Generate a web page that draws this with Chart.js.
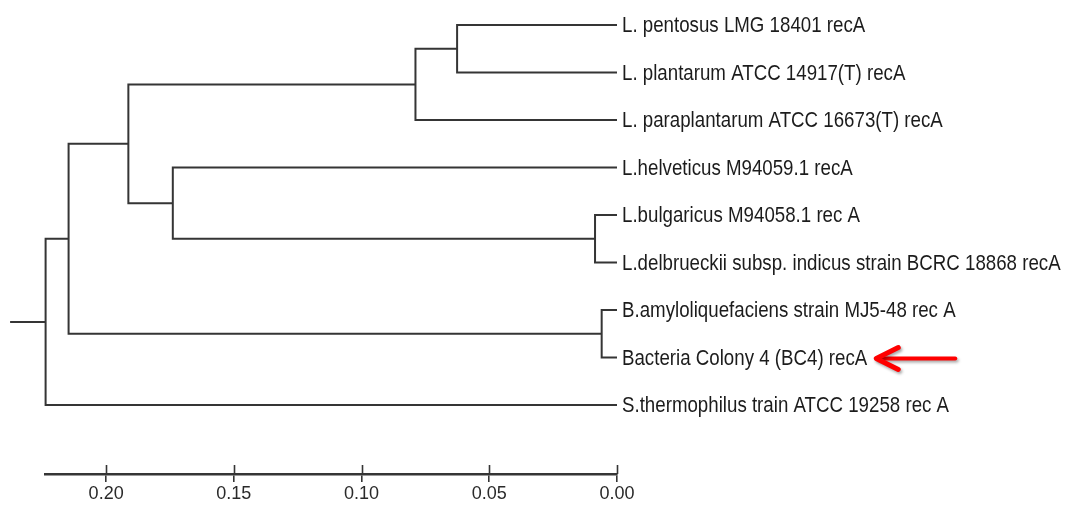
<!DOCTYPE html>
<html>
<head>
<meta charset="utf-8">
<script src="https://cdn.jsdelivr.net/npm/chart.js@4/dist/chart.umd.min.js"></script>
<style>
  html, body { margin: 0; padding: 0; background: #ffffff; }
  #wrap { position: relative; width: 1072px; height: 507px; }
</style>
</head>
<body>
<div id="wrap"><canvas id="c" width="1072" height="507"></canvas></div>
<script>
// ---- data ----
const leafNames = [
  "L. pentosus LMG 18401 recA",
  "L. plantarum ATCC 14917(T) recA",
  "L. paraplantarum ATCC 16673(T) recA",
  "L.helveticus M94059.1 recA",
  "L.bulgaricus M94058.1 rec A",
  "L.delbrueckii subsp. indicus strain BCRC 18868 recA",
  "B.amyloliquefaciens strain MJ5-48 rec A",
  "Bacteria Colony 4 (BC4) recA",
  "S.thermophilus train ATCC 19258 rec A"
];
// internal nodes (index 9..16), children refer to leaf (0..8) or node indices
const nodeHeights = [0.0626, 0.0789, 0.0086, 0.1739, 0.1913, 0.0060, 0.2147, 0.2237];
const nodeChildA  = [0, 9, 4, 3, 10, 6, 13, 15];
const nodeChildB  = [1, 2, 5, 11, 12, 7, 14, 8];
const rootStubEnd = 0.2376;
const axisTicks = [0, 0.05, 0.10, 0.15, 0.20];
const axisMax = 0.2237;
const highlightLeaf = 7;

// ---- tree layout from data ----
const nLeaves = leafNames.length;
const H = [], Y = [];
for (let i = 0; i < nLeaves; i++) { H[i] = 0; Y[i] = i; }
nodeHeights.forEach((h, k) => {
  const id = nLeaves + k;
  H[id] = h;
  Y[id] = (Y[nodeChildA[k]] + Y[nodeChildB[k]]) / 2;
});
const rootId = nLeaves + nodeHeights.length - 1;

const lineColor = '#353535';
const datasets = nodeHeights.map((h, k) => {
  const a = nodeChildA[k], b = nodeChildB[k];
  return {
    data: [
      { x: H[a], y: Y[a] },
      { x: h, y: Y[a] },
      { x: h, y: Y[b] },
      { x: H[b], y: Y[b] }
    ],
    showLine: true, borderColor: lineColor, borderWidth: 2,
    pointRadius: 0, tension: 0, clip: false, borderJoinStyle: 'miter'
  };
});
datasets.push({
  data: [{ x: H[rootId], y: Y[rootId] }, { x: rootStubEnd, y: Y[rootId] }],
  showLine: true, borderColor: lineColor, borderWidth: 2,
  pointRadius: 0, tension: 0, clip: false
});

const FONT = '"Liberation Sans", Arial, sans-serif';
const labelScaleX = 0.85;

const overlay = {
  id: 'overlay',
  afterDraw(chart) {
    const ctx = chart.ctx;
    const xs = chart.scales.x, ys = chart.scales.y;
    // upward part of axis tick marks
    ctx.save();
    ctx.strokeStyle = lineColor;
    ctx.lineWidth = 1.6;
    const yb = chart.chartArea.bottom;
    axisTicks.forEach(t => {
      const px = Math.round(xs.getPixelForValue(t)) + 0.5;
      ctx.beginPath();
      ctx.moveTo(px, yb - 9);
      ctx.lineTo(px, yb);
      ctx.stroke();
    });
    ctx.restore();

    // leaf labels (condensed)
    const x0 = xs.getPixelForValue(0) + 5;
    let hlEnd = 0, hlY = 0;
    leafNames.forEach((name, i) => {
      const py = ys.getPixelForValue(i) + 1;
      ctx.save();
      ctx.translate(x0, py);
      ctx.scale(labelScaleX, 1);
      ctx.font = '22px ' + FONT;
      ctx.fillStyle = '#1c1c1c';
      ctx.textBaseline = 'middle';
      ctx.textAlign = 'left';
      ctx.fillText(name, 0, 0);
      const w = ctx.measureText(name).width * labelScaleX;
      ctx.restore();
      if (i === highlightLeaf) { hlEnd = x0 + w; hlY = py; }
    });

    // red arrow pointing at highlighted leaf
    const tip = hlEnd + 9, tail = tip + 79;
    ctx.save();
    ctx.shadowColor = 'rgba(0,0,0,0.35)';
    ctx.shadowBlur = 3;
    ctx.shadowOffsetX = 1.5;
    ctx.shadowOffsetY = 2;
    ctx.strokeStyle = '#ff0000';
    ctx.lineWidth = 4;
    ctx.lineCap = 'round';
    ctx.lineJoin = 'round';
    ctx.beginPath();
    ctx.moveTo(tail, hlY);
    ctx.lineTo(tip + 2, hlY);
    ctx.stroke();
    ctx.lineWidth = 5;
    ctx.beginPath();
    ctx.moveTo(tip + 22, hlY - 11);
    ctx.lineTo(tip, hlY);
    ctx.lineTo(tip + 22, hlY + 11);
    ctx.stroke();
    ctx.restore();
  }
};

const rowPx = 47.5, firstRowPx = 25, axisPx = 474;
const yMin = -firstRowPx / rowPx;
const yMax = yMin + axisPx / rowPx;

new Chart(document.getElementById('c'), {
  type: 'scatter',
  data: { datasets },
  options: {
    responsive: false,
    animation: false,
    devicePixelRatio: 1,
    layout: { padding: { left: 45.6, right: 455, top: 0, bottom: 0 } },
    plugins: { legend: { display: false }, tooltip: { enabled: false } },
    scales: {
      x: {
        type: 'linear',
        position: 'bottom',
        reverse: true,
        min: 0,
        max: axisMax,
        afterBuildTicks(scale) { scale.ticks = axisTicks.map(v => ({ value: v })); },
        afterFit(scale) { scale.height = 507 - axisPx; },
        ticks: {
          includeBounds: false,
          padding: 1,
          color: '#2a2a2a',
          font: { family: FONT, size: 18 },
          maxRotation: 0,
          autoSkip: false,
          callback: v => Number(v).toFixed(2)
        },
        grid: { drawOnChartArea: false, drawTicks: true, tickLength: 8, color: lineColor, lineWidth: 1.6 },
        border: { display: true, color: lineColor, width: 2.5 }
      },
      y: {
        type: 'linear',
        display: false,
        reverse: true,
        min: yMin,
        max: yMax
      }
    }
  },
  plugins: [overlay]
});
</script>
</body>
</html>
